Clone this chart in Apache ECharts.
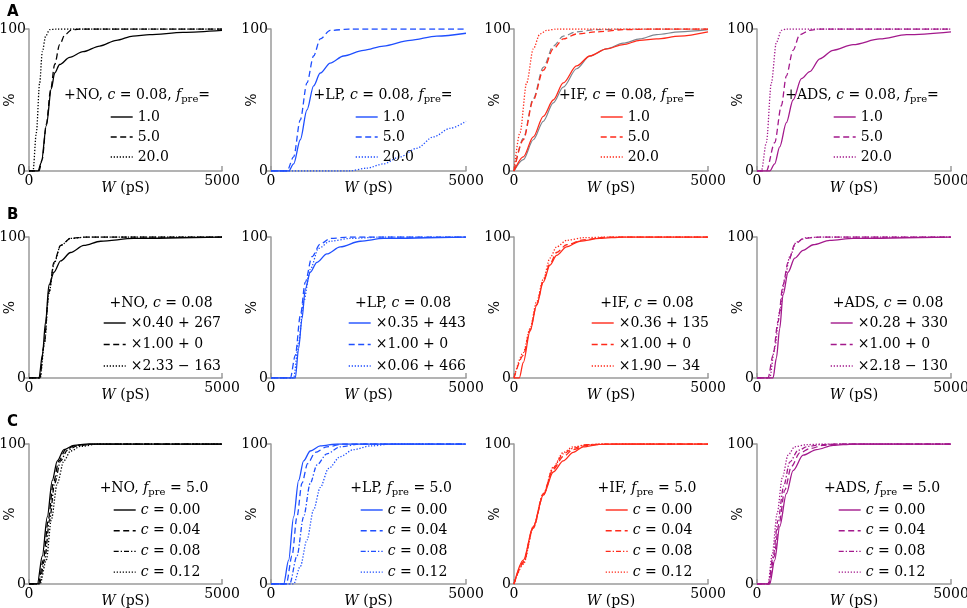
<!DOCTYPE html>
<html>
<head>
<meta charset="utf-8">
<script src="https://cdn.jsdelivr.net/npm/echarts/dist/echarts.min.js"></script>
<style>
html, body { margin: 0; padding: 0; background: #fff; }
#main { width: 967px; height: 608px; }
</style>
</head>
<body>
<div id="main"></div>
<script>
// ---- data: [W (pS), %] ----
// row A: c = 0.08, f_pre = 1.0 / 5.0 / 20.0
var a1_f1 = [[0,0],[233,0],[320,6],[449,32],[579,58],[665,69],[794,75],[1054,80],[1399,84],[1831,88],[2263,92],[2694,95],[3126,96],[3990,97.6],[5000,99]];
var a1_f5 = [[0,0],[260,0],[340,8],[449,33],[560,57],[665,75],[794,89],[930,96],[1097,99.3],[1300,100],[5000,100]];
var a1_f20 = [[0,0],[104,0],[190,27],[276,62],[345,84],[432,95],[535,99.5],[700,100],[5000,100]];

var a2_f1 = [[0,0],[452,0],[580,5],[751,22],[922,43],[1092,60],[1263,69],[1519,76],[1860,81],[2372,85],[2884,88],[3567,92],[4249,95],[5000,97]];
var a2_f5 = [[0,0],[410,0],[580,10],[751,36],[922,62],[1092,81],[1263,93],[1519,99],[2031,100],[5000,100]];
var a2_f20 = [[0,0],[2000,0],[2457,2],[2884,5],[3311,10],[3737,16],[4164,24],[4590,30],[5000,35]];

var a3_f1 = [[0,0],[240,10],[497,24],[755,38.5],[1012,50],[1269,62],[1612,74],[1955,81],[2384,86],[2813,89],[3242,92],[3671,93],[4271,95],[5000,98]];
var a3_f5 = [[0,0],[240,22],[497,50],[755,71],[1012,86],[1269,93],[1612,96.5],[2127,98],[2813,99.5],[3500,100],[5000,100]];
var a3_f20 = [[0,0],[154,27],[326,62],[497,86],[669,96.5],[840,99],[1098,100],[5000,100]];
// grey reference curves in the IF panel
var a3_ref1 = [[0,0],[240,8],[497,22],[755,35],[1012,48],[1269,59],[1612,72],[1955,81],[2384,86],[2813,90],[3242,93],[3671,96],[4271,98],[5000,99.5]];
var a3_ref5 = [[0,0],[240,23],[497,51],[755,73],[1012,88],[1269,95],[1612,98],[2127,99.5],[2813,100],[5000,100]];

var a4_f1 = [[0,0],[327,0],[456,5],[585,17],[757,34],[929,50],[1145,65],[1360,70],[1618,79],[1962,85],[2478,89],[3167,93],[3855,96],[5000,98]];
var a4_f5 = [[0,0],[241,0],[456,20],[628,46],[757,67],[929,85],[1102,96],[1360,99],[1618,100],[5000,100]];
var a4_f20 = [[0,0],[112,0],[241,20],[370,62],[499,90.5],[628,99],[757,100],[5000,100]];

// row B: rescaled curves
var b1_s = [[0,0],[259,0],[345,16],[431,40],[517,66],[647,75],[819,83],[1078,89],[1422,94],[1853,97],[2716,99],[5000,100]];
var b1_d = [[0,0],[280,0],[388,23],[517,61],[647,82],[819,94],[1078,99],[1500,100],[5000,100]];
var b1_o = [[0,0],[290,0],[400,25],[517,60],[647,81],[819,94],[1078,99],[1500,100],[5000,100]];

var b2_s = [[0,0],[623,0],[708,21],[794,42],[879,63],[1007,75],[1177,82],[1433,88],[1775,93],[2287,97],[2884,99],[5000,100]];
var b2_d = [[0,0],[495,0],[623,16],[751,44],[879,68],[1050,86],[1263,95],[1519,99],[2031,100],[5000,100]];
var b2_o = [[0,0],[580,0],[708,25],[836,54],[1007,77],[1220,92],[1519,97],[2031,99],[2884,100],[5000,100]];

var b3_s = [[0,0],[137,0],[240,11],[412,33],[583,51.5],[755,68],[926,80],[1098,87],[1355,93],[1698,97],[2213,99],[2800,100],[5000,100]];
var b3_d = [[0,0],[240,16],[412,34],[583,52],[755,69],[926,81],[1098,89],[1355,94.5],[1784,98],[2400,100],[5000,100]];
var b3_o = [[0,0],[240,18],[412,35],[583,54],[755,70],[926,85],[1098,93],[1355,97.6],[1784,99.5],[2400,100],[5000,100]];

var b4_s = [[0,0],[413,0],[499,14],[585,35],[671,59],[800,75],[972,85],[1188,90.5],[1446,94.5],[1876,97.6],[2478,99],[5000,100]];
var b4_d = [[0,0],[284,0],[413,16],[542,40],[671,66],[800,82],[972,94.5],[1188,99],[1618,100],[5000,100]];
var b4_o = [[0,0],[327,0],[456,21],[585,47],[714,70],[843,86],[1016,96.5],[1274,99.5],[1618,100],[5000,100]];

// row C: f_pre = 5.0, c = 0.00 / 0.04 / 0.08 / 0.12
var c1_0 = [[0,0],[216,0],[345,20],[474,48],[603,74],[733,88],[905,96],[1164,99],[1500,100],[5000,100]];
var c1_4 = [[0,0],[241,0],[371,17],[500,46],[629,72],[776,88],[948,96],[1207,99],[1600,100],[5000,100]];
var c1_8 = [[0,0],[267,0],[405,17],[534,46],[664,72],[819,88],[991,95.5],[1250,98.6],[1700,100],[5000,100]];
var c1_12 = [[0,0],[284,0],[448,17],[578,46],[733,72],[905,88],[1078,95],[1336,98.3],[1800,100],[5000,100]];

var c2_0 = [[0,0],[324,0],[452,17],[580,48],[708,74],[836,88],[1007,95],[1263,98.6],[1700,100],[5000,100]];
var c2_4 = [[0,0],[392,0],[538,20],[666,48],[794,72],[939,86],[1135,94],[1433,98],[1860,100],[5000,100]];
var c2_8 = [[0,0],[478,0],[666,20],[836,48],[1007,72],[1177,85],[1433,93],[1775,98],[2300,100],[5000,100]];
var c2_12 = [[0,0],[580,0],[751,12.5],[922,31.5],[1092,53],[1263,69],[1476,82.5],[1775,91],[2116,96],[2543,98.6],[3100,100],[5000,100]];

var c3_0 = [[0,0],[240,17],[497,41],[755,63.5],[1012,80],[1269,88],[1527,94],[1784,98],[2213,99.8],[2800,100],[5000,100]];
var c3_4 = [[0,0],[240,15],[497,40],[755,63.5],[1012,82],[1269,91],[1527,96],[1870,99],[2400,100],[5000,100]];
var c3_8 = [[0,0],[240,16],[497,41],[755,64.5],[1012,83],[1269,93],[1527,97],[1870,99.5],[2300,100],[5000,100]];
var c3_12 = [[0,0],[240,14],[497,40],[755,64],[1012,83.5],[1269,94],[1527,98],[1870,99.5],[2200,100],[5000,100]];

var c4_0 = [[0,0],[327,0],[456,17],[585,41],[757,64.5],[929,81],[1188,92],[1532,96],[1962,99],[2478,100],[5000,100]];
var c4_4 = [[0,0],[310,0],[439,19.5],[568,43],[714,67],[886,84],[1102,93.6],[1360,96.7],[1704,99],[2100,100],[5000,100]];
var c4_8 = [[0,0],[293,0],[413,19.5],[542,45.5],[688,70],[843,87],[1059,95.5],[1317,98.3],[1618,99.5],[2000,100],[5000,100]];
var c4_12 = [[0,0],[284,0],[396,22],[516,50],[654,76],[800,92],[972,98],[1274,99.5],[1618,100],[5000,100]];

// labels
var models = ['NO', 'LP', 'IF', 'ADS'];
var rowLetters = ['A', 'B', 'C'];
var labelsA = ['1.0', '5.0', '20.0'];
var labelsB = [
    ['\u00d70.40 + 267', '\u00d71.00 + 0', '\u00d72.33 \u2212 163'],
    ['\u00d70.35 + 443', '\u00d71.00 + 0', '\u00d70.06 + 466'],
    ['\u00d70.36 + 135', '\u00d71.00 + 0', '\u00d71.90 \u2212 34'],
    ['\u00d70.28 + 330', '\u00d71.00 + 0', '\u00d72.18 \u2212 130']
];
var labelsC = ['{i|c} = 0.00', '{i|c} = 0.04', '{i|c} = 0.08', '{i|c} = 0.12'];

var rowData = [
    [[a1_f1, a1_f5, a1_f20], [a2_f1, a2_f5, a2_f20], [a3_f1, a3_f5, a3_f20], [a4_f1, a4_f5, a4_f20]],
    [[b1_s, b1_d, b1_o], [b2_s, b2_d, b2_o], [b3_s, b3_d, b3_o], [b4_s, b4_d, b4_o]],
    [[c1_0, c1_4, c1_8, c1_12], [c2_0, c2_4, c2_8, c2_12], [c3_0, c3_4, c3_8, c3_12], [c4_0, c4_4, c4_8, c4_12]]
];

// ---- layout & styles ----
var chart = echarts.init(document.getElementById('main'));

var serif = 'DejaVu Serif';
var colors = ['#000000', '#1f4fff', '#ff2a1a', '#a3198c'];
var greyRef = '#7d868f';
var axisGrey = '#9a9a9a';
var dashStyle = {
    solid: 'solid',
    dashed: [6, 3.5],
    dotted: [1.3, 1.7],
    dashdot: [5, 2, 1.3, 2]
};
var rowStyles = [
    ['solid', 'dashed', 'dotted'],
    ['solid', 'dashed', 'dotted'],
    ['solid', 'dashed', 'dashdot', 'dotted']
];

var colLeft = [29, 271, 514, 757];
var colWidth = [193, 195, 194, 194];
var rowTop = [29, 237, 444];
var rowHeight = [142, 141, 140];

var legendLeft = [[110, 355, 600, 833], [103, 348, 591, 830], [113, 360, 605, 838]];
var legendTop = [110, 316, 503];
var legendGap = [6, 7.5, 6.7];
var titleX = [[137, 383, 627, 862], [161, 403, 647, 888], [154, 401, 647, 882]];
var titleY = [95, 303, 488];
var letterY = [5, 208, 415];

var rich = {
    i: { fontFamily: serif, fontSize: 14, fontStyle: 'italic', lineHeight: 18, color: '#000' },
    s: { fontFamily: serif, fontSize: 10, lineHeight: 10, verticalAlign: 'bottom', color: '#000' }
};
var legendRich = {
    i: { fontFamily: serif, fontSize: 14, fontStyle: 'italic', lineHeight: 14, color: '#000' }
};

var grids = [], xAxes = [], yAxes = [], series = [], legends = [], graphics = [];
var labelOf = {};

for (var r = 0; r < 3; r++) {
    graphics.push({
        type: 'text', left: 7, top: letterY[r],
        style: { text: rowLetters[r], fontFamily: 'DejaVu Sans', fontWeight: 'bold', fontSize: 15, fill: '#000' }
    });
    for (var c = 0; c < 4; c++) {
        var k = r * 4 + c;
        grids.push({
            left: colLeft[c], top: rowTop[r], width: colWidth[c], height: rowHeight[r],
            containLabel: false, outerBoundsMode: 'none'
        });
        xAxes.push({
            type: 'value', gridIndex: k, min: 0, max: 5000, interval: 5000,
            axisLine: { show: true, onZero: false, lineStyle: { color: axisGrey, width: 1.5 } },
            axisTick: { show: true, inside: true, length: 5, lineStyle: { color: axisGrey, width: 1.5 } },
            axisLabel: {
                fontFamily: serif, fontSize: 14, color: '#000', margin: 3,
                formatter: function (v) { return String(v); }
            },
            splitLine: { show: false },
            name: '{i|W} (pS)', nameLocation: 'middle', nameGap: 8, nameMoveOverlap: false,
            nameTextStyle: { fontFamily: serif, fontSize: 14, color: '#000', rich: rich }
        });
        yAxes.push({
            type: 'value', gridIndex: k, min: 0, max: 100, interval: 100,
            axisLine: { show: true, onZero: false, lineStyle: { color: axisGrey, width: 1.5 } },
            axisTick: { show: true, length: 4, lineStyle: { color: axisGrey, width: 1.5 } },
            axisLabel: { fontFamily: serif, fontSize: 14, color: '#000', margin: 3 },
            splitLine: { show: false },
            name: '%', nameLocation: 'middle', nameGap: 12, nameRotate: 90, nameMoveOverlap: false,
            nameTextStyle: { fontFamily: serif, fontSize: 14, color: '#000' }
        });

        // grey reference curves first, underneath
        if (r === 0 && c === 2) {
            [[a3_ref1, 'solid'], [a3_ref5, 'dashed']].forEach(function (g, gi) {
                series.push({
                    type: 'line', name: 'ref' + gi, data: g[0], xAxisIndex: k, yAxisIndex: k,
                    symbol: 'none', smooth: 0.3, smoothMonotone: 'x', silent: true, z: 1,
                    color: greyRef,
                    lineStyle: { color: greyRef, width: 1.2, type: dashStyle[g[1]] }
                });
            });
        }

        var names = [];
        var sets = rowData[r][c];
        for (var j = 0; j < sets.length; j++) {
            var nm = 'p' + k + '_' + j;
            var lab = r === 0 ? labelsA[j] : (r === 1 ? labelsB[c][j] : labelsC[j]);
            labelOf[nm] = lab;
            names.push(nm);
            series.push({
                type: 'line', name: nm, data: sets[j], xAxisIndex: k, yAxisIndex: k,
                symbol: 'none', smooth: 0.3, smoothMonotone: 'x', silent: true, z: 2,
                color: colors[c],
                lineStyle: { color: colors[c], width: 1.3, type: dashStyle[rowStyles[r][j]] }
            });
        }

        legends.push({
            orient: 'vertical', left: legendLeft[r][c], top: legendTop[r], padding: 0,
            itemWidth: 22, itemHeight: 14, itemGap: legendGap[r], selectedMode: false,
            itemStyle: { opacity: 0 },
            lineStyle: { width: 1.4 },
            data: names,
            formatter: function (name) { return labelOf[name]; },
            textStyle: { fontFamily: serif, fontSize: 14, color: '#000', lineHeight: 14, rich: legendRich }
        });

        var head = '+' + models[c] + ', ';
        if (r === 0) head += '{i|c} = 0.08, {i|f}{s|pre}=';
        else if (r === 1) head += '{i|c} = 0.08';
        else head += '{i|f}{s|pre} = 5.0';
        graphics.push({
            type: 'text', x: titleX[r][c], y: titleY[r],
            style: {
                text: head, rich: rich, fontFamily: serif, fontSize: 14, lineHeight: 18,
                fill: '#000', align: 'center', verticalAlign: 'middle'
            }
        });
    }
}

var option = {
    backgroundColor: '#ffffff',
    animation: false,
    grid: grids,
    xAxis: xAxes,
    yAxis: yAxes,
    legend: legends,
    series: series,
    graphic: graphics
};
chart.setOption(option);
</script>
</body>
</html>
